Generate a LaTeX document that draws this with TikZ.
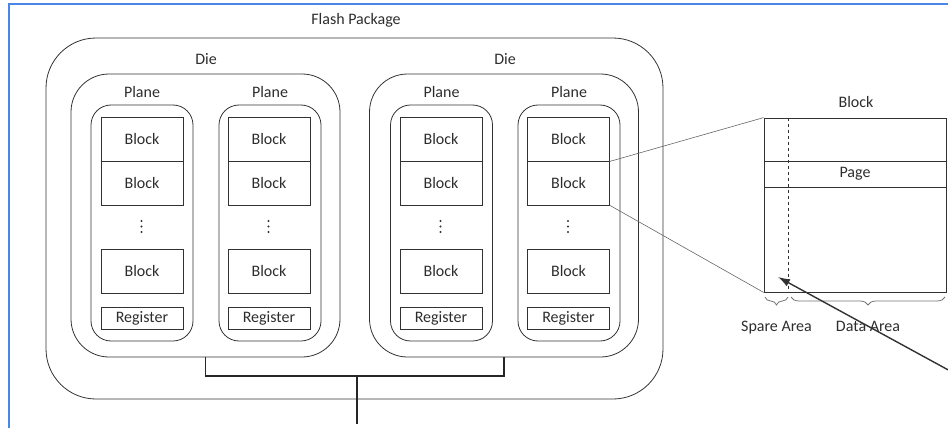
\documentclass[tikz,border=0pt]{standalone}
\usepackage{fontspec}
\setmainfont{Carlito}
\usepackage{tikz}
\usetikzlibrary{decorations.pathreplacing,arrows.meta}
\definecolor{linegray}{RGB}{50,50,50}
\definecolor{textgray}{RGB}{45,45,45}
\definecolor{frameblue}{RGB}{74,134,232}
\tikzset{
  pkgbox/.style={draw=linegray, line width=0.8pt, rounded corners=50pt, minimum width=617pt, minimum height=361pt},
  diebox/.style={draw=linegray, line width=0.8pt, rounded corners=38pt, minimum width=269pt, minimum height=283pt},
  planebox/.style={draw=linegray, line width=0.8pt, rounded corners=20pt, minimum width=102pt, minimum height=236pt},
  blockbox/.style={draw=linegray, line width=0.8pt, inner sep=0pt, minimum width=82pt, minimum height=44pt},
  regbox/.style={draw=linegray, line width=0.8pt, inner sep=0pt, minimum width=82pt, minimum height=22pt},
  bus/.style={draw=black!85, line width=1.6pt},
  zoomline/.style={draw=black!60, line width=0.6pt},
  spanbrace/.style={draw=black!55, line width=0.8pt, decorate, decoration={brace, mirror, amplitude=8pt}}
}
\begin{document}
\begin{tikzpicture}[x=1pt, y=-1pt, font=\fontsize{16}{19}\selectfont, text=textgray]
\useasboundingbox (0,0) rectangle (948,428);
\draw [frameblue, line width=2pt] (9,428) -- (9,4) -- (948,4);
% package and dies
\node [pkgbox] (pkg) at (354.5,218.5) {};
\node (pkglabel) at (356,20) {Flash Package};
\node [diebox] (die1) at (205.5,215.5) {};
\node [diebox] (die2) at (504,215.5) {};
\node (dielabel1) at (206,59) {Die};
\node (dielabel2) at (505,59) {Die};
% planes
\node [planebox] (pl1) at (142,223) {};
\node [planebox] (pl2) at (270,223) {};
\node [planebox] (pl3) at (441.5,223) {};
\node [planebox] (pl4) at (569,223) {};
\node (pllabel1) at (142,92) {Plane};
\node (pllabel2) at (270,92) {Plane};
\node (pllabel3) at (441.5,92) {Plane};
\node (pllabel4) at (569,92) {Plane};
% blocks and registers
\node [blockbox] (b1a) at (142,139) {Block};
\node [blockbox] (b1b) at (142,183) {Block};
\node [blockbox] (b1c) at (142,271) {Block};
\node [regbox] (r1) at (142,318) {Register};
\node [blockbox] (b2a) at (269,139) {Block};
\node [blockbox] (b2b) at (269,183) {Block};
\node [blockbox] (b2c) at (269,271) {Block};
\node [regbox] (r2) at (269,318) {Register};
\node [blockbox] (b3a) at (441,139) {Block};
\node [blockbox] (b3b) at (441,183) {Block};
\node [blockbox] (b3c) at (441,271) {Block};
\node [regbox] (r3) at (441,318) {Register};
\node [blockbox] (b4a) at (568.5,139) {Block};
\node [blockbox] (b4b) at (568.5,183) {Block};
\node [blockbox] (b4c) at (568.5,271) {Block};
\node [regbox] (r4) at (568.5,318) {Register};
% dots between blocks
\fill [linegray] (141.5,221) circle (1.1pt) (141.5,226.5) circle (1.1pt) (141.5,232) circle (1.1pt);
\fill [linegray] (268.5,221) circle (1.1pt) (268.5,226.5) circle (1.1pt) (268.5,232) circle (1.1pt);
\fill [linegray] (440.5,221) circle (1.1pt) (440.5,226.5) circle (1.1pt) (440.5,232) circle (1.1pt);
\fill [linegray] (568,221) circle (1.1pt) (568,226.5) circle (1.1pt) (568,232) circle (1.1pt);
% bus
\coordinate (busjoin) at (357,376);
\coordinate (pin) at (357,424);
\draw [bus] (die1.south) |- (busjoin) -| (die2.south);
\draw [bus] (busjoin) -- (pin);
% block detail
\node [draw=linegray, line width=0.8pt, minimum width=182pt, minimum height=174pt] (detail) at (855,205) {};
\node (detaillabel) at (856,102) {Block};
\node [draw=linegray, line width=0.8pt, minimum width=182pt, minimum height=26pt, inner sep=0pt] (page) at (855,174) {Page};
\draw [linegray, line width=0.8pt, dashed] ([xshift=25pt]detail.north west) -- ([xshift=25pt]detail.south west);
\draw [zoomline] (b4a.south east) -- (detail.north west);
\draw [zoomline] (b4b.south east) -- (detail.south west);
\draw [spanbrace] (765,297) -- (788,297) node [midway, below=20pt, text=textgray] (spare) {Spare Area};
\draw [spanbrace] (791,297) -- (945,297) node [midway, below=20pt, text=textgray] (data) {Data Area};
% pointer
\coordinate (arrtail) at (952,372);
\coordinate (arrtip) at (778,277);
\draw [>={Latex[length=12pt,width=8pt]},->, linegray, line width=1.4pt] (arrtail) -- (arrtip);
\end{tikzpicture}
\end{document}
